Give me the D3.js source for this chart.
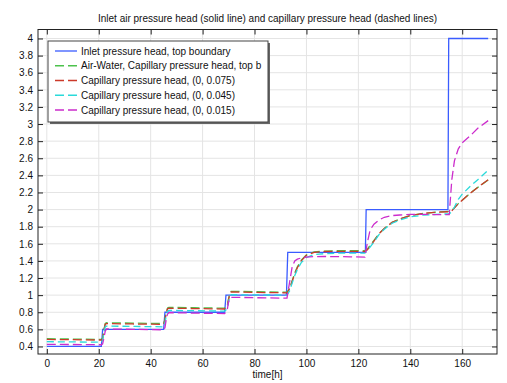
<!DOCTYPE html>
<html><head><meta charset="utf-8">
<script src="https://cdn.jsdelivr.net/npm/d3@7"></script>
<style>body{margin:0;background:#fff}svg{display:block}text{font-family:"Liberation Sans",Arial,sans-serif;fill:#111}</style>
</head><body><svg id="c" width="507" height="383"></svg>
<script>
const titleText = "Inlet air pressure head (solid line) and capillary pressure head (dashed lines)";
const xLabel = "time[h]";
const xTicks = [0,20,40,60,80,100,120,140,160];
const yTicks = [0.4,0.6,0.8,1,1.2,1.4,1.6,1.8,2,2.2,2.4,2.6,2.8,3,3.2,3.4,3.6,3.8,4];
const seriesNames = ["Inlet pressure head, top boundary","Air-Water, Capillary pressure head, top b","Capillary pressure head, (0, 0.075)","Capillary pressure head, (0, 0.045)","Capillary pressure head, (0, 0.015)"];
const seriesColors = ["#3a5cff","#4cc24c","#cc3a2a","#2adada","#cc2ccc"];

const inletT = [0,21,21.5,45,45.5,68.5,69,92.3,92.8,122.7,123,154.5,154.8,170];
const inletV = [0.4,0.4,0.6,0.6,0.8,0.8,1,1,1.5,1.5,2,2,4,4];

const capT = [0,10,21,21.5,22,22.5,23,33,45,45.5,46,46.5,47,57,68.5,69.5,70,70.5,71,80,92.5,93.5,94.5,95.5,96.5,98,100,103,107,112,117,122.5,123.5,124.5,126,128,130,133,136,140,145,150,155,156,157,158.5,160,163,166,170];
const airWaterV = [0.49,0.487,0.483,0.5,0.6,0.67,0.677,0.673,0.668,0.72,0.8,0.85,0.857,0.853,0.848,0.88,0.96,1.02,1.045,1.04,1.035,1.08,1.17,1.26,1.33,1.41,1.47,1.505,1.515,1.52,1.52,1.52,1.54,1.58,1.64,1.72,1.78,1.85,1.89,1.93,1.955,1.97,1.98,1.99,2.02,2.07,2.11,2.19,2.26,2.345];
const cap075V = [0.482,0.479,0.475,0.49,0.59,0.66,0.667,0.663,0.658,0.71,0.79,0.84,0.847,0.843,0.838,0.87,0.95,1.01,1.038,1.032,1.027,1.07,1.16,1.25,1.32,1.40,1.465,1.50,1.51,1.512,1.512,1.51,1.53,1.57,1.63,1.72,1.78,1.85,1.89,1.93,1.955,1.97,1.975,1.985,2.02,2.07,2.11,2.19,2.26,2.35];
const cap045V = [0.456,0.453,0.45,0.47,0.57,0.63,0.638,0.635,0.63,0.68,0.76,0.81,0.822,0.818,0.813,0.84,0.92,0.98,1.005,1.003,1.0,1.05,1.14,1.23,1.3,1.38,1.44,1.475,1.485,1.49,1.49,1.49,1.52,1.56,1.62,1.71,1.77,1.84,1.88,1.915,1.935,1.945,1.95,1.975,2.03,2.12,2.18,2.27,2.35,2.46];
const cap015V = [0.425,0.423,0.42,0.43,0.5,0.58,0.605,0.6,0.595,0.62,0.72,0.78,0.795,0.79,0.785,0.83,0.92,0.96,0.975,0.97,0.965,1.15,1.33,1.4,1.42,1.435,1.445,1.45,1.452,1.45,1.448,1.445,1.62,1.76,1.83,1.88,1.91,1.93,1.937,1.945,1.945,1.94,1.94,2.35,2.57,2.71,2.78,2.86,2.95,3.04];

const svg = d3.select("#c");
const L=38, R=497, T=29.5, B=354;
const x = d3.scaleLinear().domain([-3.4,173.4]).range([L,R]);
const y = d3.scaleLinear().domain([0.312,4.105]).range([B,T]);

// grid
const g = svg.append("g");
g.selectAll(".gx").data(xTicks).join("line").attr("x1",d=>x(d)).attr("x2",d=>x(d)).attr("y1",T).attr("y2",B).attr("stroke","#e4e4e4").attr("stroke-width",1);
g.selectAll(".gy").data(yTicks).join("line").attr("y1",d=>y(d)).attr("y2",d=>y(d)).attr("x1",L).attr("x2",R).attr("stroke","#e4e4e4").attr("stroke-width",1);

// axes with inward ticks
const fmt = d=>String(+d.toFixed(1));
const ax = (gen, tr)=>svg.append("g").attr("transform",tr).call(gen);
const axB = ax(d3.axisBottom(x).tickValues(xTicks).tickSizeInner(-5).tickSizeOuter(0).tickPadding(6).tickFormat(fmt),`translate(0,${B})`);
const axT = ax(d3.axisTop(x).tickValues(xTicks).tickSizeInner(-5).tickSizeOuter(0).tickFormat(""),`translate(0,${T})`);
const axL = ax(d3.axisLeft(y).tickValues(yTicks).tickSizeInner(-5).tickSizeOuter(0).tickPadding(5).tickFormat(fmt),`translate(${L},0)`);
const axR = ax(d3.axisRight(y).tickValues(yTicks).tickSizeInner(-5).tickSizeOuter(0).tickFormat(""),`translate(${R},0)`);
[axB,axT,axL,axR].forEach(a=>{a.select(".domain").remove();a.selectAll("line").attr("stroke","#222");a.selectAll("text").attr("font-size","10px").attr("font-family","Liberation Sans, Arial, sans-serif").attr("fill","#111");});

// lines
svg.append("clipPath").attr("id","pc").append("rect").attr("x",L).attr("y",T).attr("width",R-L).attr("height",B-T);
const line = d3.line().x(d=>x(d[0])).y(d=>y(d[1]));
const series = [
  {t:inletT, v:inletV, dash:null},
  {t:capT, v:airWaterV, dash:"9,4"},
  {t:capT, v:cap075V, dash:"9,4"},
  {t:capT, v:cap045V, dash:"7,4"},
  {t:capT, v:cap015V, dash:"9,4"}
];
const lg = svg.append("g").attr("clip-path","url(#pc)");
series.forEach((s,i)=>{
  lg.append("path").attr("d",line(s.t.map((t,j)=>[t,s.v[j]]))).attr("fill","none")
    .attr("stroke",seriesColors[i]).attr("stroke-width",1.3).attr("stroke-dasharray",s.dash);
});

// frame
svg.append("rect").attr("x",L).attr("y",T).attr("width",R-L).attr("height",B-T).attr("fill","none").attr("stroke","#222").attr("stroke-width",1);

// title and label
svg.append("text").attr("x",(L+R)/2).attr("y",22).attr("text-anchor","middle").attr("font-size","10px").text(titleText);
svg.append("text").attr("x",(L+R)/2).attr("y",378).attr("text-anchor","middle").attr("font-size","10px").text(xLabel);

// legend
const lx=48, ly=41, lw=220, lh=81;
svg.append("rect").attr("x",lx+2).attr("y",ly+2).attr("width",lw).attr("height",lh).attr("fill","#666");
svg.append("rect").attr("x",lx).attr("y",ly).attr("width",lw).attr("height",lh).attr("fill","#fff").attr("stroke","#444").attr("stroke-width",1);
seriesNames.forEach((n,i)=>{
  const yy = ly+10+i*14.75;
  svg.append("line").attr("x1",lx+7).attr("x2",lx+29).attr("y1",yy).attr("y2",yy).attr("stroke",seriesColors[i]).attr("stroke-width",1.3).attr("stroke-dasharray",i===0?null:"9,4");
  svg.append("text").attr("x",lx+33).attr("y",yy).attr("dy","0.35em").attr("font-size","10px").text(n);
});
</script></body></html>
